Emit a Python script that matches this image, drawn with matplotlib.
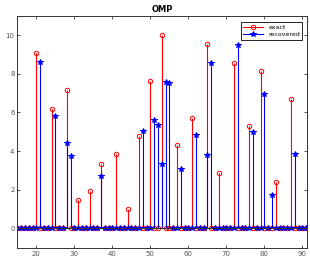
import numpy as np
import matplotlib
matplotlib.use("Agg")
import matplotlib.pyplot as plt
from matplotlib.lines import Line2D

n = 100
exact_idx = [20, 24, 28, 31, 34, 37, 41, 44, 47, 50, 53, 57, 61, 65, 68, 72, 76, 79, 83, 87]
exact_val = [9.05, 6.20, 7.15, 1.45, 1.93, 3.33, 3.83, 0.98, 4.77, 7.62,
             10.0, 4.30, 5.73, 9.51, 2.89, 8.56, 5.28, 8.12, 2.40, 6.68]
rec_idx = [21, 25, 28, 29, 37, 48, 51, 52, 53, 54, 55, 58, 62, 65, 66, 73, 77, 80, 82, 88]
rec_val = [8.62, 5.79, 4.42, 3.73, 2.69, 5.04, 5.63, 5.36, 3.35, 7.59,
           7.51, 3.09, 4.82, 3.77, 8.53, 9.50, 4.96, 6.94, 1.75, 3.85]
xticks = [20, 30, 40, 50, 60, 70, 80, 90]
yticks = [0, 2, 4, 6, 8, 10]

x = np.arange(1, n + 1)
exact = np.zeros(n)
exact[np.array(exact_idx) - 1] = exact_val
rec = np.zeros(n)
rec[np.array(rec_idx) - 1] = rec_val

fig = plt.figure(figsize=(3.10, 2.57), dpi=100)
ax = fig.add_axes([0.0558, 0.036, 0.9345, 0.903])

m1, s1, b1 = ax.stem(x, exact, linefmt='r-', markerfmt='ro', basefmt='k-')
plt.setp(s1, linewidth=0.8)
plt.setp(m1, markersize=3.2, markerfacecolor='none', markeredgewidth=0.7)
plt.setp(b1, linewidth=0.8, color='#333333')
m2, s2, b2 = ax.stem(x, rec, linefmt='b-', markerfmt='b*', basefmt='k-')
plt.setp(s2, linewidth=0.8)
plt.setp(m2, markersize=4.2, markeredgewidth=0.7)
plt.setp(b2, linewidth=0.8, color='#333333')

ax.set_xlim(15, 91.2)
ax.set_ylim(-1, 11)
ax.set_xticks(xticks)
ax.set_yticks(yticks)
ax.tick_params(direction='in', length=2.5, width=0.6, labelsize=5, colors='#333333',
               labelcolor='#555555', top=True, right=True, pad=2)
for s in ax.spines.values():
    s.set_linewidth(0.7)
    s.set_color('#333333')

ax.set_title('OMP', fontsize=6, fontweight='bold', pad=3)
handles = [Line2D([], [], color='r', marker='o', markerfacecolor='none', markersize=3.2,
                  markeredgewidth=0.7, linewidth=0.8),
           Line2D([], [], color='b', marker='*', markersize=4.2, markeredgewidth=0.7,
                  linewidth=0.8)]
leg = ax.legend(handles, ['exact', 'recovered'], loc='upper right', fontsize=4.5,
                fancybox=False, framealpha=1, edgecolor='black', borderpad=0.4,
                handlelength=3.2, labelspacing=0.3, bbox_to_anchor=(0.995, 0.985))
leg.get_frame().set_linewidth(0.6)

fig.savefig('out.png', dpi=100)
